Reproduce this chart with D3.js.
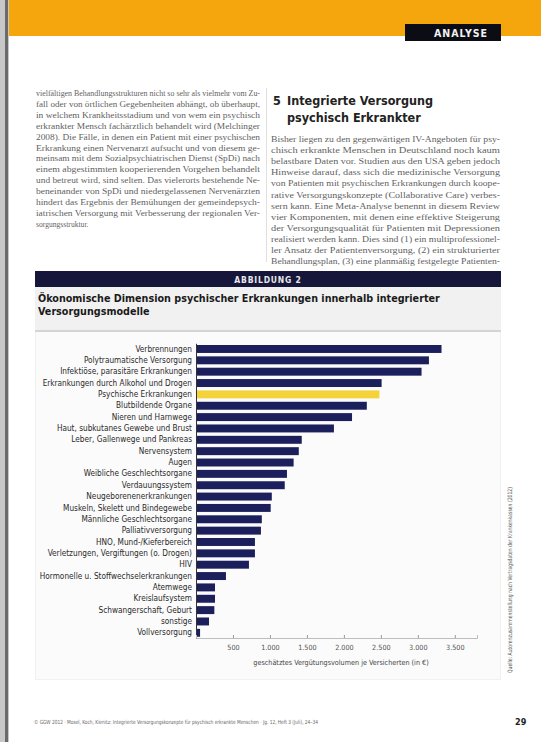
<!DOCTYPE html>
<html><head><meta charset="utf-8">
<script src="https://cdn.jsdelivr.net/npm/d3@7"></script>
<style>html,body{margin:0;padding:0;background:#fff;}svg{display:block;}</style>
</head><body>
<script>
// ---- data ----
const categories = [
  "Verbrennungen","Polytraumatische Versorgung","Infektiöse, parasitäre Erkrankungen",
  "Erkrankungen durch Alkohol und Drogen","Psychische Erkrankungen","Blutbildende Organe",
  "Nieren und Harnwege","Haut, subkutanes Gewebe und Brust","Leber, Gallenwege und Pankreas",
  "Nervensystem","Augen","Weibliche Geschlechtsorgane","Verdauungssystem",
  "Neugeborenenerkrankungen","Muskeln, Skelett und Bindegewebe","Männliche Geschlechtsorgane",
  "Palliativversorgung","HNO, Mund-/Kieferbereich","Verletzungen, Vergiftungen (o. Drogen)",
  "HIV","Hormonelle u. Stoffwechselerkrankungen","Atemwege","Kreislaufsystem",
  "Schwangerschaft, Geburt","sonstige","Vollversorgung"];
const values = [3320,3150,3050,2510,2480,2310,2110,1865,1430,1390,1320,1230,1200,
  1025,1010,890,878,797,797,716,405,257,257,248,176,55];
const highlight = ["Psychische Erkrankungen"];
const tickValues = [500,1000,1500,2000,2500,3000,3500];
const axisTitle = "geschätztes Vergütungsvolumen je Versicherten (in €)";
const figLabel = "ABBILDUNG 2";
const figTitle = ["Ökonomische Dimension psychischer Erkrankungen innerhalb integrierter","Versorgungsmodelle"];
const sourceText = "Quelle: Autorenzusammenstellung nach Vertragsdaten der Krankenkassen (2012)";
const leftText = [
 "vielfältigen Behandlungsstrukturen nicht so sehr als vielmehr vom Zu-",
 "fall oder von örtlichen Gegebenheiten abhängt, ob überhaupt,",
 "in welchem Krankheitsstadium und von wem ein psychisch",
 "erkrankter Mensch fachärztlich behandelt wird (Melchinger",
 "2008). Die Fälle, in denen ein Patient mit einer psychischen",
 "Erkrankung einen Nervenarzt aufsucht und von diesem ge-",
 "meinsam mit dem Sozialpsychiatrischen Dienst (SpDi) nach",
 "einem abgestimmten kooperierenden Vorgehen behandelt",
 "und betreut wird, sind selten. Das vielerorts bestehende Ne-",
 "beneinander von SpDi und niedergelassenen Nervenärzten",
 "hindert das Ergebnis der Bemühungen der gemeindepsych-",
 "iatrischen Versorgung mit Verbesserung der regionalen Ver-",
 "sorgungsstruktur."];
const rightText = [
 "Bisher liegen zu den gegenwärtigen IV-Angeboten für psy-",
 "chisch erkrankte Menschen in Deutschland noch kaum",
 "belastbare Daten vor. Studien aus den USA geben jedoch",
 "Hinweise darauf, dass sich die medizinische Versorgung",
 "von Patienten mit psychischen Erkrankungen durch koope-",
 "rative Versorgungskonzepte (Collaborative Care) verbes-",
 "sern kann. Eine Meta-Analyse benennt in diesem Review",
 "vier Komponenten, mit denen eine effektive Steigerung",
 "der Versorgungsqualität für Patienten mit Depressionen",
 "realisiert werden kann. Dies sind (1) ein multiprofessionel-",
 "ler Ansatz der Patientenversorgung, (2) ein strukturierter",
 "Behandlungsplan, (3) eine planmäßig festgelegte Patienten-"];
const heading = ["5","Integrierte Versorgung","psychisch Erkrankter"];
const footer = "© GGW 2012 · Mosel, Koch, Kienitz: Integrierte Versorgungskonzepte für psychisch erkrankte Menschen · Jg. 12, Heft 3 (Juli), 24–34";
const pageNo = "29";

// ---- drawing ----
const W = 541, H = 742;
const svg = d3.select("body").append("svg").attr("width", W).attr("height", H);
const cond = "'DejaVu Sans Condensed','Liberation Sans Narrow','DejaVu Sans',sans-serif";

// header band
svg.append("rect").attr("x",0).attr("y",0).attr("width",W).attr("height",36).attr("fill","#f4a60c");
svg.append("rect").attr("x",405).attr("y",24).attr("width",96).attr("height",17).attr("fill","#0c0c14");
svg.append("text").attr("x",461).attr("y",36.5).attr("text-anchor","middle")
  .attr("font-family",cond).attr("font-weight","bold").attr("font-size",10.5)
  .attr("letter-spacing",1).attr("fill","#f2f2f2").text("ANALYSE");
// binding edge
svg.append("rect").attr("x",0).attr("y",0).attr("width",9).attr("height",H).attr("fill","#c8c8c8");
svg.append("rect").attr("x",5).attr("y",0).attr("width",3).attr("height",H).attr("fill","#6a6a6a");

// body text
function block(lines, x, y0, lh, w, lastShort) {
  lines.forEach((t,i) => {
    const el = svg.append("text").attr("x",x).attr("y",y0+i*lh)
      .attr("font-family","'Liberation Serif',serif").attr("font-size",7.6).attr("fill","#5f5f5f").text(t);
    if (!(lastShort && i === lines.length-1)) el.attr("textLength",w).attr("lengthAdjust","spacingAndGlyphs");
  });
}
block(leftText, 36, 96, 10.9, 224, true);
block(rightText, 271, 142, 11.1, 229, false);
svg.append("line").attr("x1",266.5).attr("x2",266.5).attr("y1",88).attr("y2",262).attr("stroke","#d8d8d8").attr("stroke-width",0.8);
[[heading[0],273,105],[heading[1],287,105],[heading[2],287,122]].forEach(([t,xx,yy]) =>
  svg.append("text").attr("x",xx).attr("y",yy).attr("font-family",cond).attr("font-weight","bold")
    .attr("font-size",12.5).attr("fill","#222").text(t));

// figure box
svg.append("rect").attr("x",35).attr("y",271).attr("width",466).attr("height",409).attr("fill","#f1f1f1");
svg.append("rect").attr("x",35).attr("y",271).attr("width",466).attr("height",16).attr("fill","#15163a");
svg.append("text").attr("x",268).attr("y",282.5).attr("text-anchor","middle").attr("font-family",cond)
  .attr("font-weight","bold").attr("font-size",8.5).attr("letter-spacing",0.8).attr("fill","#e8e8e8").text(figLabel);
figTitle.forEach((t,i)=>svg.append("text").attr("x",38).attr("y",302+i*12.5).attr("font-family",cond)
  .attr("font-weight","bold").attr("font-size",10.7).attr("fill","#1a1a1a").text(t));
svg.append("line").attr("x1",35).attr("x2",501).attr("y1",331).attr("y2",331).attr("stroke","#b8b8b8").attr("stroke-width",1);
svg.append("rect").attr("x",36).attr("y",332).attr("width",464).attr("height",347).attr("fill","#fbfbfb");

// scales
const x = d3.scaleLinear().domain([0,3800]).range([196,477]);
const y = d3.scaleBand().domain(categories).range([343.3,638.5]).paddingInner(0.3).paddingOuter(0.15);
const de = d3.formatLocale({decimal:",",thousands:".",grouping:[3],currency:["","€"]});
const fmt = de.format(",d");

// bars
svg.append("g").selectAll("rect").data(categories).join("rect")
  .attr("x",x(0)).attr("y",d=>y(d)).attr("height",y.bandwidth())
  .attr("width",(d,i)=>x(values[i])-x(0))
  .attr("fill",d=>highlight.includes(d)?"#f3d23a":"#1b1f5c");

// y axis
const gy = svg.append("g").attr("transform",`translate(${x(0)},0)`)
  .call(d3.axisLeft(y).tickSize(0).tickPadding(4));
gy.select(".domain").attr("stroke","#333").attr("stroke-width",1);
gy.selectAll("text").attr("font-family",cond).attr("font-size",8.2).attr("fill","#2a2a2a");

// x axis
const gx = svg.append("g").attr("transform",`translate(0,638)`)
  .call(d3.axisBottom(x).tickValues(tickValues).tickFormat(fmt).tickSize(-3).tickPadding(7));
gx.select(".domain").attr("stroke","#bdbdbd").attr("stroke-width",1);
gx.selectAll(".tick line").attr("stroke","#999");
gx.selectAll("text").attr("font-family",cond).attr("font-size",7.2).attr("fill","#555");
svg.append("text").attr("x",341).attr("y",665).attr("text-anchor","middle").attr("font-family",cond)
  .attr("font-size",7.2).attr("fill","#444").text(axisTitle);

// source (vertical)
svg.append("text").attr("transform","translate(512,673) rotate(-90)")
  .attr("font-family",cond).attr("font-size",6).attr("fill","#555").attr("textLength",186)
  .attr("lengthAdjust","spacingAndGlyphs").text(sourceText);

// footer
svg.append("text").attr("x",34).attr("y",724).attr("font-family",cond).attr("font-size",5.6)
  .attr("fill","#666").attr("textLength",284).attr("lengthAdjust","spacingAndGlyphs").text(footer);
svg.append("text").attr("x",515).attr("y",725).attr("font-family",cond).attr("font-weight","bold")
  .attr("font-size",9).attr("fill","#222").text(pageNo);
</script>
</body></html>
